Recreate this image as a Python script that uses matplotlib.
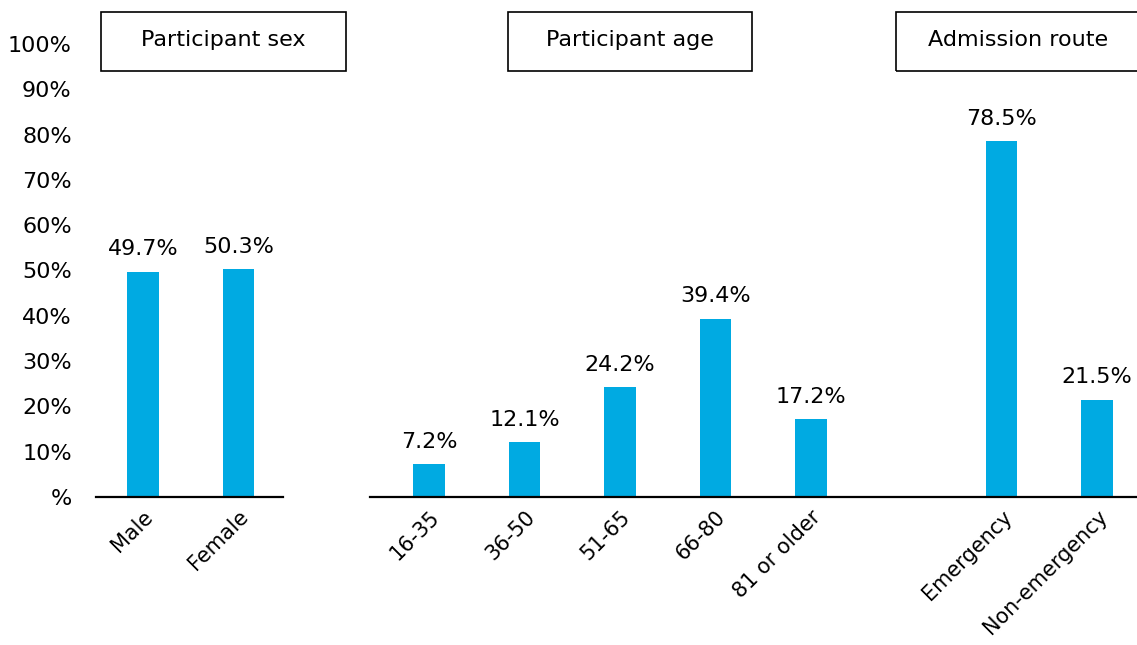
import matplotlib.pyplot as plt
from matplotlib.patches import Rectangle

# data
categories = ["Male", "Female", "", "16-35", "36-50", "51-65", "66-80", "81 or older",
              "", "Emergency", "Non-emergency"]
values = [49.7, 50.3, None, 7.2, 12.1, 24.2, 39.4, 17.2, None, 78.5, 21.5]
group_titles = ["Participant sex", "Participant age", "Admission route"]
yticks = [0, 10, 20, 30, 40, 50, 60, 70, 80, 90, 100]
ytick_labels = ["%"] + [f"{v}%" for v in yticks[1:]]

bar_color = "#00AAE2"
plt.rcParams["font.family"] = "DejaVu Sans"
plt.rcParams["font.size"] = 16

W, H = 1137, 645
fig = plt.figure(figsize=(W / 100, H / 100), dpi=100)

left_px, base_px, slot = 95.3, 497, 95.4
ymax = base_px / 4.53
ax = fig.add_axes([left_px / W, (H - base_px) / H, 1 - left_px / W, base_px / H])

xs = [i for i, v in enumerate(values) if v is not None]
hs = [v for v in values if v is not None]
ax.bar(xs, hs, width=0.33, color=bar_color, zorder=2)
for x, h in zip(xs, hs):
    ax.annotate(f"{h}%", (x, h), xytext=(0, 9), textcoords="offset points",
                ha="center", va="bottom", fontsize=16)

ax.set_xlim(-0.5, (W - 143) / slot)
ax.set_ylim(0, ymax)
ax.set_yticks(yticks)
ax.set_yticklabels(ytick_labels)
ax.set_xticks(xs)
ax.set_xticklabels([categories[i] for i in xs], rotation=45, ha="right",
                   rotation_mode="anchor")
ax.tick_params(axis="both", length=0, labelsize=16)
ax.tick_params(axis="y", pad=17)
ax.tick_params(axis="x", pad=7, labelsize=15)
for s in ax.spines.values():
    s.set_visible(False)

# baseline segments
ax.plot([-0.49, 1.47], [0, 0], color="black", lw=1.6, zorder=3, clip_on=False)
ax.plot([2.38, 11], [0, 0], color="black", lw=1.6, zorder=3, clip_on=False)

# group title boxes (figure pixel coords)
boxes = [(101, 346), (508, 752), (896, 1160)]
centers = [223, 630, 1018]
for (x0, x1), cx, t in zip(boxes, centers, group_titles):
    fig.add_artist(Rectangle((x0 / W, 1 - 70.5 / H), (x1 - x0) / W, 58.5 / H,
                             transform=fig.transFigure, fill=False,
                             edgecolor="black", lw=1.2))
    fig.text(cx / W, 1 - 40 / H, t, ha="center", va="center", fontsize=16)

fig.savefig("out.png", dpi=100)
